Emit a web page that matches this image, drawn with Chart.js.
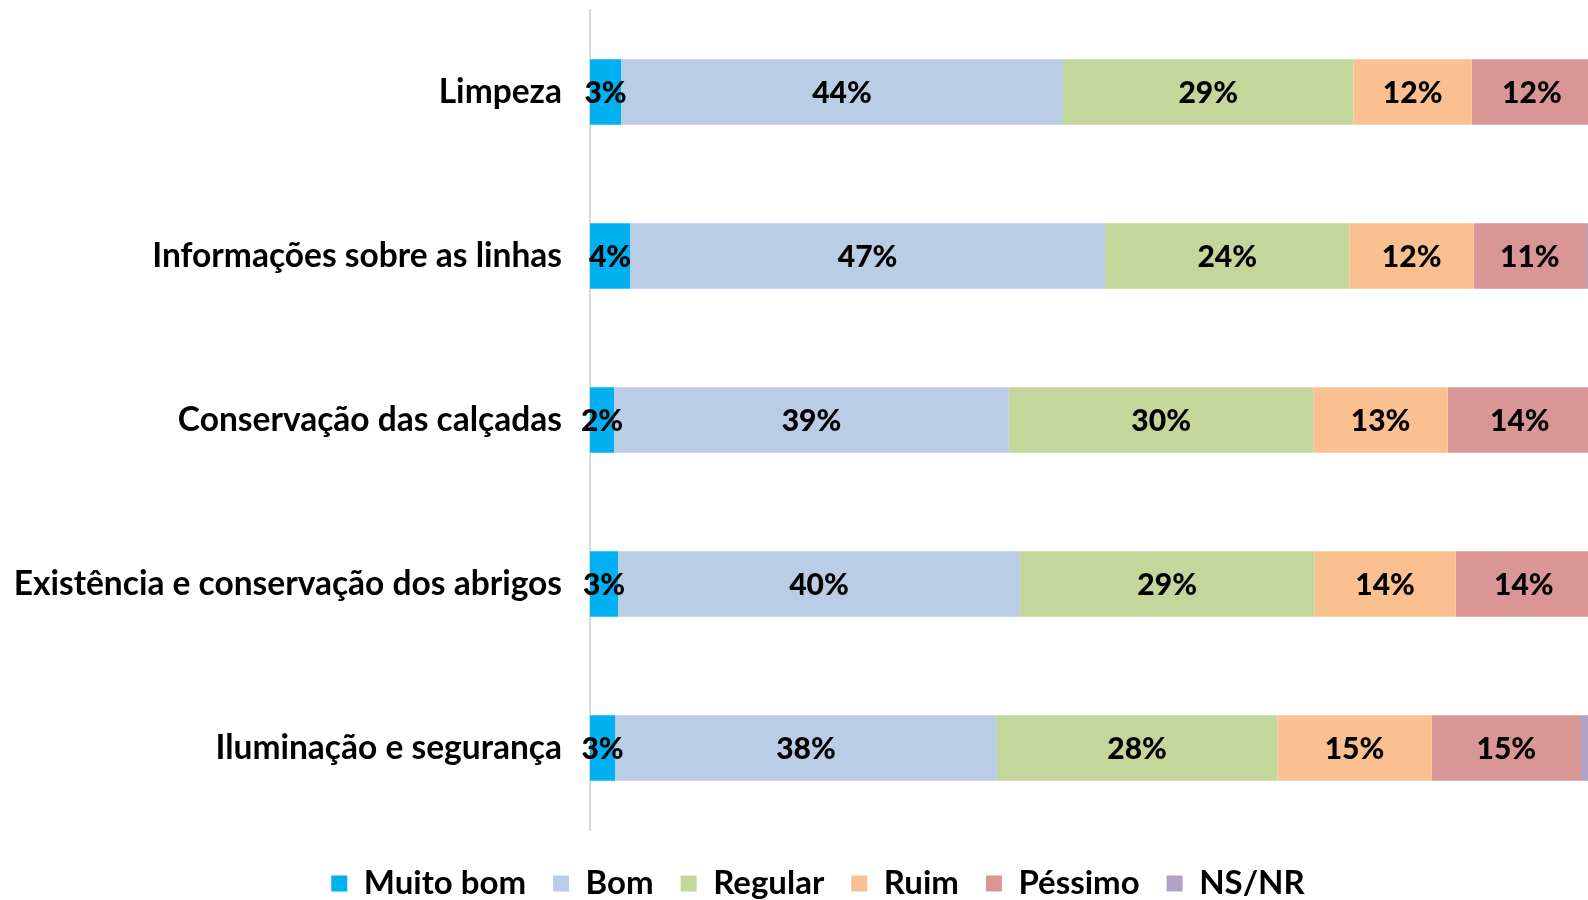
<!DOCTYPE html>
<html>
<head>
<meta charset="utf-8">
<script src="https://cdn.jsdelivr.net/npm/chart.js@4/dist/chart.umd.min.js"></script>
<style>
  html, body { margin: 0; padding: 0; overflow: hidden; background: #ffffff; width: 1588px; height: 900px; }
  #wrap { position: absolute; left: 0; top: 0; width: 1636px; height: 910px; }
</style>
</head>
<body>
<div id="wrap"><canvas id="c" width="1636" height="910"></canvas></div>
<script>
const categories = [
  "Limpeza",
  "Informações sobre as linhas",
  "Conservação das calçadas",
  "Existência e conservação dos abrigos",
  "Iluminação e segurança"
];
const seriesNames = ["Muito bom", "Bom", "Regular", "Ruim", "Péssimo", "NS/NR"];
const muitoBom = [3.1, 4.0, 2.4, 2.8, 2.5];
const bom      = [44.1, 47.4, 39.4, 40.1, 38.1];
const regular  = [29.0, 24.4, 30.4, 29.4, 28.0];
const ruim     = [11.8, 12.4, 13.4, 14.1, 15.4];
const pessimo  = [12.0, 11.2, 14.4, 13.6, 14.9];
const nsnr     = [0.0, 0.6, 0.0, 0.0, 1.1];
const colors = ["#00b0f0", "#b9cde5", "#c4d79b", "#fac090", "#d99694", "#b3a2c7"];
const allSeries = [muitoBom, bom, regular, ruim, pessimo, nsnr];

const FONT = "Lato, 'Open Sans', sans-serif";

const labelPlugin = {
  id: "segLabels",
  afterDatasetsDraw(chart) {
    const ctx = chart.ctx;
    ctx.save();
    ctx.font = "900 30px " + FONT;
    ctx.fillStyle = "#000";
    ctx.textAlign = "center";
    ctx.textBaseline = "middle";
    chart.data.datasets.forEach((ds, di) => {
      if (di === 5) return;
      const meta = chart.getDatasetMeta(di);
      meta.data.forEach((bar, i) => {
        const v = ds.data[i];
        if (!v) return;
        const x = (bar.x + bar.base) / 2;
        ctx.fillText(Math.round(v) + "%", x, bar.y + 1);
      });
    });
    ctx.restore();
  }
};

const legendShift = {
  id: "legendShift",
  afterLayout(chart) {
    if (chart.legend) {
      chart.legend.left += 22;
      chart.legend.right += 22;
    }
  }
};

new Chart(document.getElementById("c"), {
  type: "bar",
  data: {
    labels: categories,
    datasets: allSeries.map((d, i) => ({
      label: seriesNames[i],
      data: d,
      backgroundColor: colors[i],
      borderWidth: 0,
      categoryPercentage: 1.0,
      barPercentage: 0.4
    }))
  },
  options: {
    indexAxis: "y",
    responsive: false,
    animation: false,
    layout: { padding: { left: 0, right: 44, top: 10, bottom: 0 } },
    plugins: {
      tooltip: { enabled: false },
      legend: {
        position: "bottom",
        labels: {
          font: { family: FONT, size: 33, weight: "bold" },
          color: "#000",
          boxWidth: 16,
          boxHeight: 16,
          padding: 27
        }
      }
    },
    scales: {
      x: {
        stacked: true,
        min: 0,
        max: 100,
        display: true,
        grid: { display: false, drawTicks: false },
        border: { display: false },
        ticks: { display: false },
        afterFit(scale) { scale.height = 10; scale.paddingLeft = 0; scale.paddingRight = 0; }
      },
      y: {
        stacked: true,
        grid: { display: false, drawTicks: false },
        border: { display: true, color: "#d9d9d9", width: 2 },
        ticks: {
          font: { family: FONT, size: 33.5, weight: "bold" },
          color: "#000",
          padding: 28
        },
        afterFit(scale) { scale.width = 590; scale.paddingTop = 0; scale.paddingBottom = 0; }
      }
    }
  },
  plugins: [labelPlugin, legendShift]
});
</script>
</body>
</html>
